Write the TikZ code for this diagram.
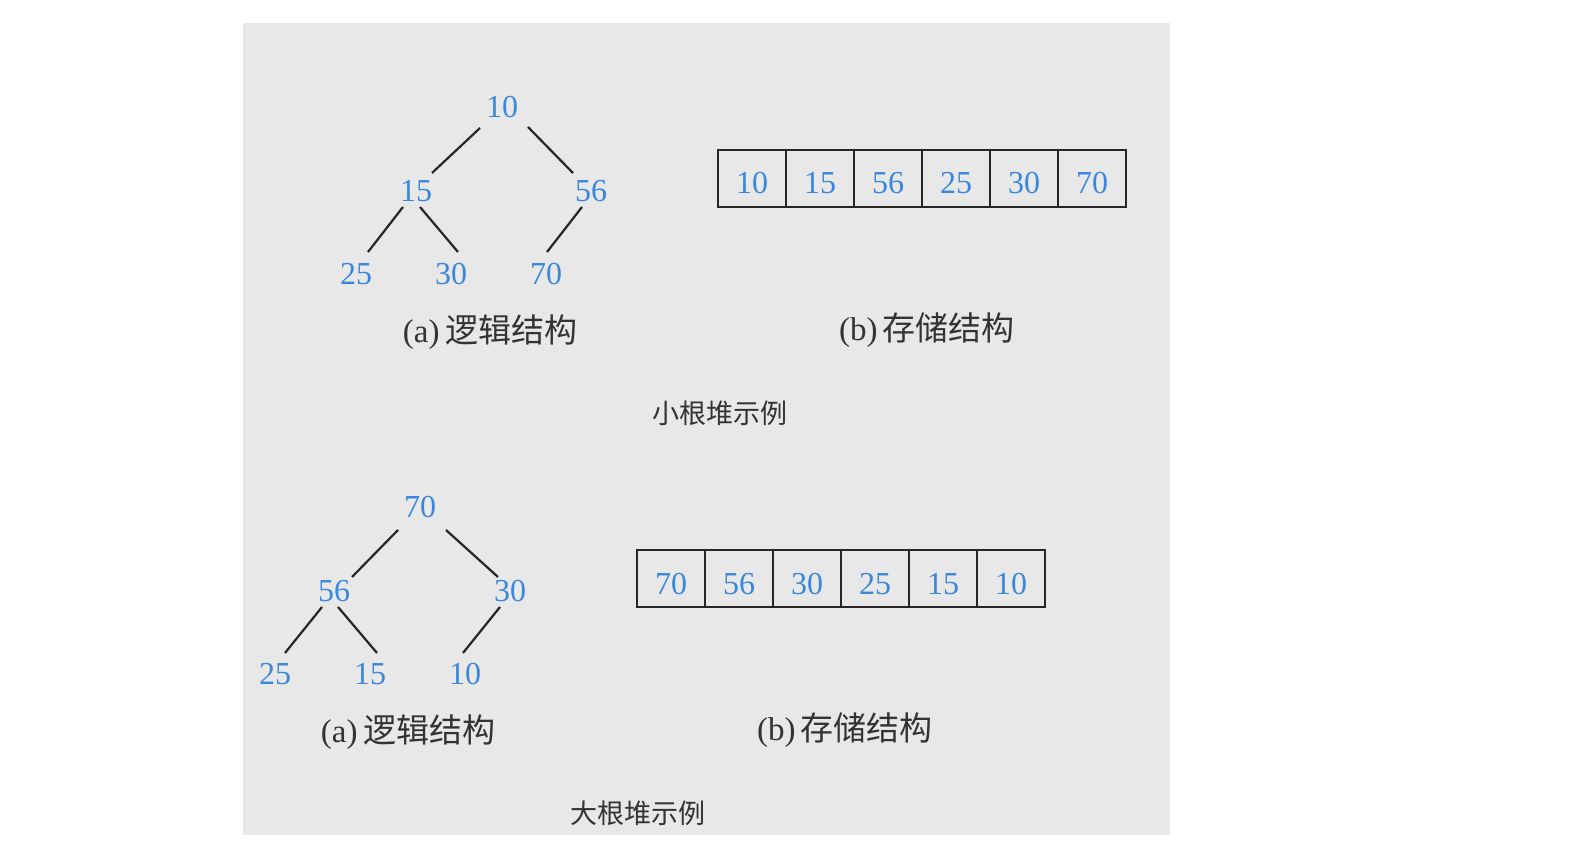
\documentclass[tikz,border=0pt]{standalone}
\usepackage{fontspec}
\usetikzlibrary{calc}
\setmainfont{Liberation Serif}
\newfontfamily\cjk{Noto Sans CJK SC}
\definecolor{bgray}{RGB}{232,232,232}
\definecolor{numblue}{RGB}{58,136,218}
\begin{document}
\begin{tikzpicture}[x=0.5pt,y=-0.5pt,
  num/.style={text=numblue,font=\fontsize{16}{16}\selectfont,inner sep=2.5pt},
  edge/.style={line width=1.1pt,draw=black!85},
  cell/.style={draw=black!85,line width=1pt,minimum width=34pt,minimum height=28.5pt,inner sep=0pt,text height=15.5pt,text depth=0pt,text=numblue,font=\fontsize{16}{16}\selectfont},
  captext/.style={font=\fontsize{16.5}{17}\selectfont,text=black!80},
  titletext/.style={font=\fontsize{13.5}{14}\selectfont,text=black!80}]
\useasboundingbox (0,0) rectangle (1570,865);
\fill[bgray] (243,23) rectangle (1170,835);
% ---------- small root heap ----------
\node[num] (a10) at (502,107) {10};
\node[num] (a15) at (416,191) {15};
\node[num] (a56) at (591,191) {56};
\node[num] (a25) at (356,274) {25};
\node[num] (a30) at (451,274) {30};
\node[num] (a70) at (546,274) {70};
\draw[edge] ($(a10)+(-22,21)$) -- ($(a15)+(16,-18)$);
\draw[edge] ($(a10)+(26,20)$) -- ($(a56)+(-18,-18)$);
\draw[edge] ($(a15)+(-13,16)$) -- ($(a25)+(12,-22)$);
\draw[edge] ($(a15)+(4,16)$) -- ($(a30)+(7,-22)$);
\draw[edge] ($(a56)+(-9,16)$) -- ($(a70)+(1,-22)$);
\node[captext] (acap) at (490,332) {(a)\,\cjk 逻辑结构};
\foreach \v [count=\i] in {10,15,56,25,30,70}{
  \node[cell] (ac\i) at ({718+68*(\i-1)+34},178.5) {\v};
}
\node[captext] (bcap) at (927,330) {(b)\,\cjk 存储结构};
\node[titletext] (t1) at (720,413) {\cjk 小根堆示例};
% ---------- big root heap ----------
\node[num] (b70) at (420,507) {70};
\node[num] (b56) at (334,591) {56};
\node[num] (b30) at (510,591) {30};
\node[num] (b25) at (275,674) {25};
\node[num] (b15) at (370,674) {15};
\node[num] (b10) at (465,674) {10};
\draw[edge] ($(b70)+(-22,23)$) -- ($(b56)+(18,-14)$);
\draw[edge] ($(b70)+(26,23)$) -- ($(b30)+(-12,-14)$);
\draw[edge] ($(b56)+(-12,16)$) -- ($(b25)+(10,-21)$);
\draw[edge] ($(b56)+(4,16)$) -- ($(b15)+(7,-21)$);
\draw[edge] ($(b30)+(-10,16)$) -- ($(b10)+(-2,-21)$);
\node[captext] (ccap) at (408,732) {(a)\,\cjk 逻辑结构};
\foreach \v [count=\i] in {70,56,30,25,15,10}{
  \node[cell] (bc\i) at ({637+68*(\i-1)+34},579) {\v};
}
\node[captext] (dcap) at (845,730) {(b)\,\cjk 存储结构};
\node[titletext] (t2) at (638,813) {\cjk 大根堆示例};
\end{tikzpicture}
\end{document}
